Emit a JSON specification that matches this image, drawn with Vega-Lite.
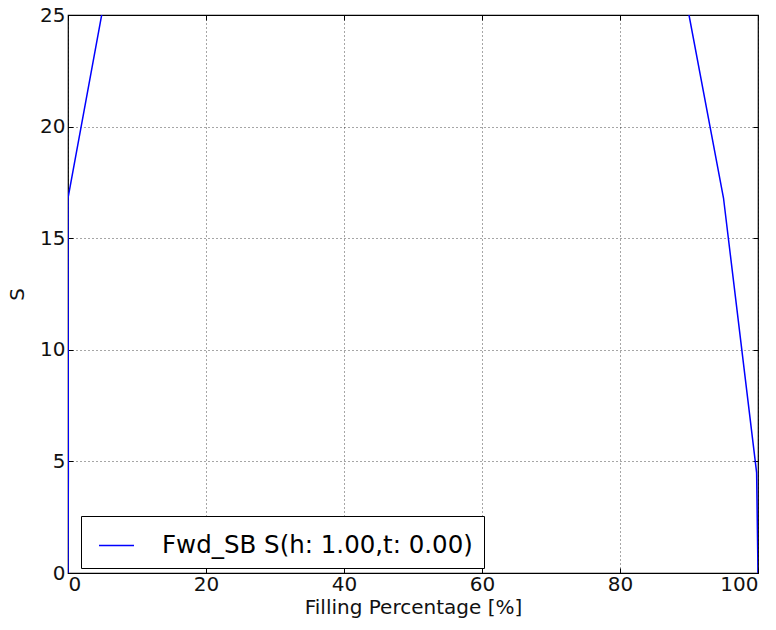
{
  "$schema": "https://vega.github.io/schema/vega-lite/v6.json",
  "autosize": "none",
  "width": 690,
  "height": 558,
  "padding": {"left": 68, "top": 15, "right": 18, "bottom": 57},
  "background": "white",
  "config": {
    "font": "DejaVu Sans",
    "view": {"stroke": "black", "strokeWidth": 1.2},
    "axis": {
      "labelFont": "DejaVu Sans",
      "titleFont": "DejaVu Sans",
      "labelFontSize": 20,
      "titleFontSize": 20,
      "titleFontWeight": "normal",
      "labelColor": "#111",
      "titleColor": "#111",
      "domain": false,
      "tickColor": "#000",
      "tickSize": -5,
      "tickWidth": 1,
      "gridColor": "#000",
      "gridDash": [1, 3],
      "gridOpacity": 0.7,
      "gridWidth": 1
    }
  },
  "data": {
    "values": [
      {"i": 0, "fill": 0, "s": 0},
      {"i": 1, "fill": 0.05, "s": 4.5},
      {"i": 2, "fill": 0, "s": 16.8},
      {"i": 3, "fill": 5, "s": 25.2},
      {"i": 4, "fill": 10, "s": 33},
      {"i": 5, "fill": 20, "s": 45},
      {"i": 6, "fill": 50, "s": 60},
      {"i": 7, "fill": 80, "s": 45},
      {"i": 8, "fill": 90, "s": 25.0},
      {"i": 9, "fill": 95, "s": 16.8},
      {"i": 10, "fill": 99.8, "s": 4.5},
      {"i": 11, "fill": 100, "s": 0}
    ]
  },
  "layer": [
    {
      "mark": {"type": "line", "color": "#0000ff", "strokeWidth": 1.5, "clip": true},
      "encoding": {
        "x": {
          "field": "fill", "type": "quantitative",
          "scale": {"domain": [0, 100], "nice": false, "zero": false},
          "axis": {"values": [0, 20, 40, 60, 80, 100], "title": "Filling Percentage [%]", "grid": true, "labelPadding": 6, "titlePadding": 3}
        },
        "y": {
          "field": "s", "type": "quantitative",
          "scale": {"domain": [0, 25], "nice": false, "zero": false},
          "axis": {"values": [0, 5, 10, 15, 20, 25], "title": "S", "grid": true, "labelPadding": 8, "titlePadding": 12}
        },
        "order": {"field": "i", "type": "quantitative"},
        "color": {
          "datum": "Fwd_SB S(h: 1.00,t: 0.00)",
          "type": "nominal",
          "scale": {"range": ["#0000ff"]},
          "legend": {
            "title": null,
            "orient": "none",
            "legendX": 13,
            "legendY": 501,
            "strokeColor": "#000",
            "fillColor": "white",
            "cornerRadius": 0,
            "padding": 11,
            "symbolType": "stroke",
            "symbolSize": 1225,
            "symbolStrokeWidth": 1.5,
            "symbolOffset": 6,
            "labelOffset": 27,
            "labelFont": "DejaVu Sans",
            "labelFontSize": 24.5,
            "labelColor": "#000",
            "labelLimit": 600
          }
        }
      }
    },
    {
      "mark": {"type": "line", "opacity": 0, "clip": true},
      "encoding": {
        "x": {
          "field": "fill", "type": "quantitative",
          "scale": {"domain": [0, 100], "nice": false, "zero": false},
          "axis": {"orient": "top", "values": [0, 20, 40, 60, 80, 100], "labels": false, "title": null, "grid": false}
        },
        "y": {
          "field": "s", "type": "quantitative",
          "scale": {"domain": [0, 25], "nice": false, "zero": false},
          "axis": {"orient": "right", "values": [0, 5, 10, 15, 20, 25], "labels": false, "title": null, "grid": false}
        },
        "order": {"field": "i", "type": "quantitative"}
      }
    }
  ],
  "resolve": {"axis": {"x": "independent", "y": "independent"}}
}
